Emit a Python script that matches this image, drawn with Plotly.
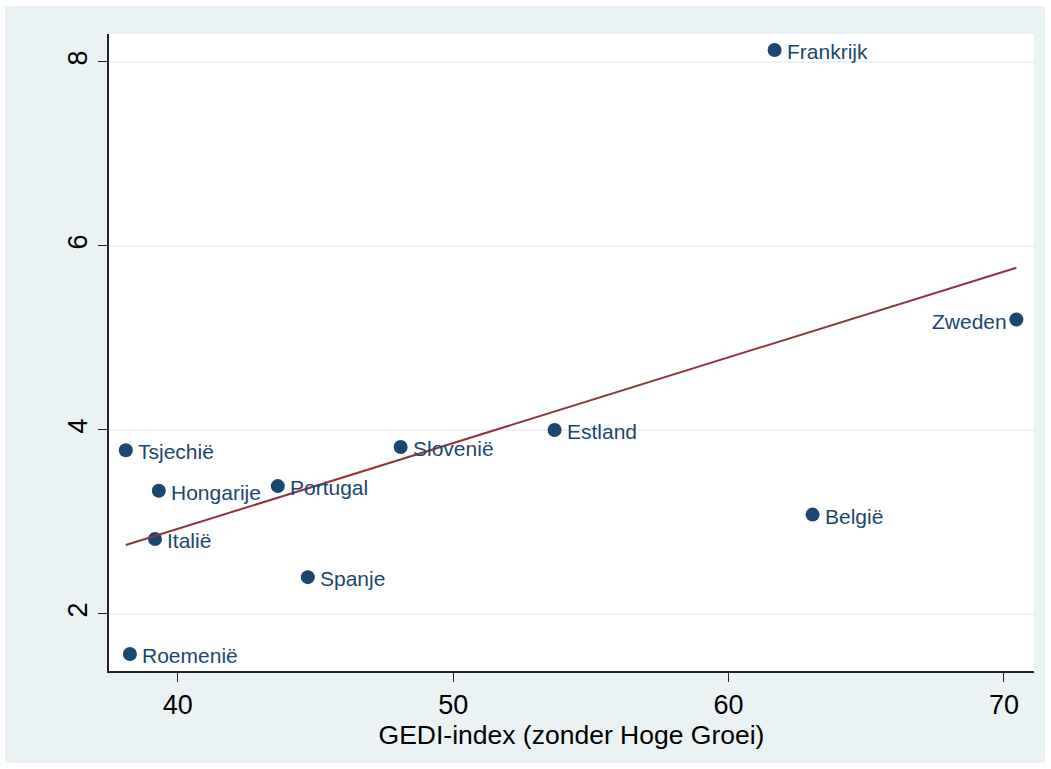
import numpy as np
import plotly.graph_objects as go

countries = ["Frankrijk", "Zweden", "Estland", "Slovenië", "Tsjechië", "Hongarije",
             "Portugal", "Italië", "Spanje", "België", "Roemenië"]
gedi = [61.67, 70.45, 53.68, 48.09, 38.11, 39.31, 43.63, 39.17, 44.72, 63.05, 38.26]
yval = [8.13, 5.20, 4.00, 3.815, 3.78, 3.34, 3.39, 2.815, 2.40, 3.08, 1.565]
label_side = ["right"] * len(countries)
label_side[1] = "left"

x_ticks = [40, 50, 60, 70]
y_ticks = [2, 4, 6, 8]

navy = "#1a476f"
maroon = "#90353b"
bg = "#eaf2f3"

W, H = 1051, 769
ml, mr, mt, mb = 109, 17, 34, 98
pw, ph = W - ml - mr, H - mt - mb

coef = np.polyfit(gedi, yval, 1)
xfit = [min(gedi), max(gedi)]
yfit = [coef[0] * v + coef[1] for v in xfit]

fig = go.Figure()
fig.add_trace(go.Scatter(
    x=gedi, y=yval, mode="markers",
    marker=dict(color=navy, size=14),
    showlegend=False, cliponaxis=False))
fig.add_trace(go.Scatter(
    x=xfit, y=yfit, mode="lines", line=dict(color=maroon, width=2), showlegend=False))

for name, xv, yv, side in zip(countries, gedi, yval, label_side):
    fig.add_annotation(
        x=xv, y=yv, text=name, showarrow=False,
        xanchor="left" if side == "right" else "right", yanchor="middle",
        xshift=10 if side == "right" else -7, yshift=-1.5,
        font=dict(family="Liberation Sans, Arial", size=21, color=navy))

# outer light background band and white plot area
fig.add_shape(type="rect", xref="paper", yref="paper",
              x0=(5 - ml) / pw, x1=(1045 - ml) / pw,
              y0=-(763 - (mt + ph)) / ph, y1=(mt + ph - 6) / ph,
              fillcolor=bg, line=dict(width=0), layer="below")
fig.add_shape(type="rect", xref="paper", yref="paper", x0=0, x1=1, y0=0, y1=1,
              fillcolor="white", line=dict(width=0), layer="below")

fig.update_layout(
    width=W, height=H,
    margin=dict(l=ml, r=mr, t=mt, b=mb),
    paper_bgcolor="white", plot_bgcolor="rgba(0,0,0,0)",
    font=dict(family="Liberation Sans, Arial", color="black"),
    xaxis=dict(range=[37.5, 71.09], tickvals=x_ticks, showgrid=False, zeroline=False,
               showline=True, linecolor="#222", linewidth=1.5, ticks="outside",
               ticklen=9, tickwidth=1.3, tickcolor="#222", tickfont=dict(size=27),
               title=dict(text="GEDI-index (zonder Hoge Groei)", font=dict(size=26.5), standoff=0)),
    yaxis=dict(range=[1.38, 8.304], tickvals=y_ticks, showgrid=True, gridcolor=bg,
               gridwidth=2, zeroline=False, showline=True, linecolor="#222", linewidth=1.5,
               ticks="outside", ticklen=9, tickwidth=1.3, tickcolor="#222",
               tickfont=dict(size=27), tickangle=-90),
)

fig.write_html("out.html")
